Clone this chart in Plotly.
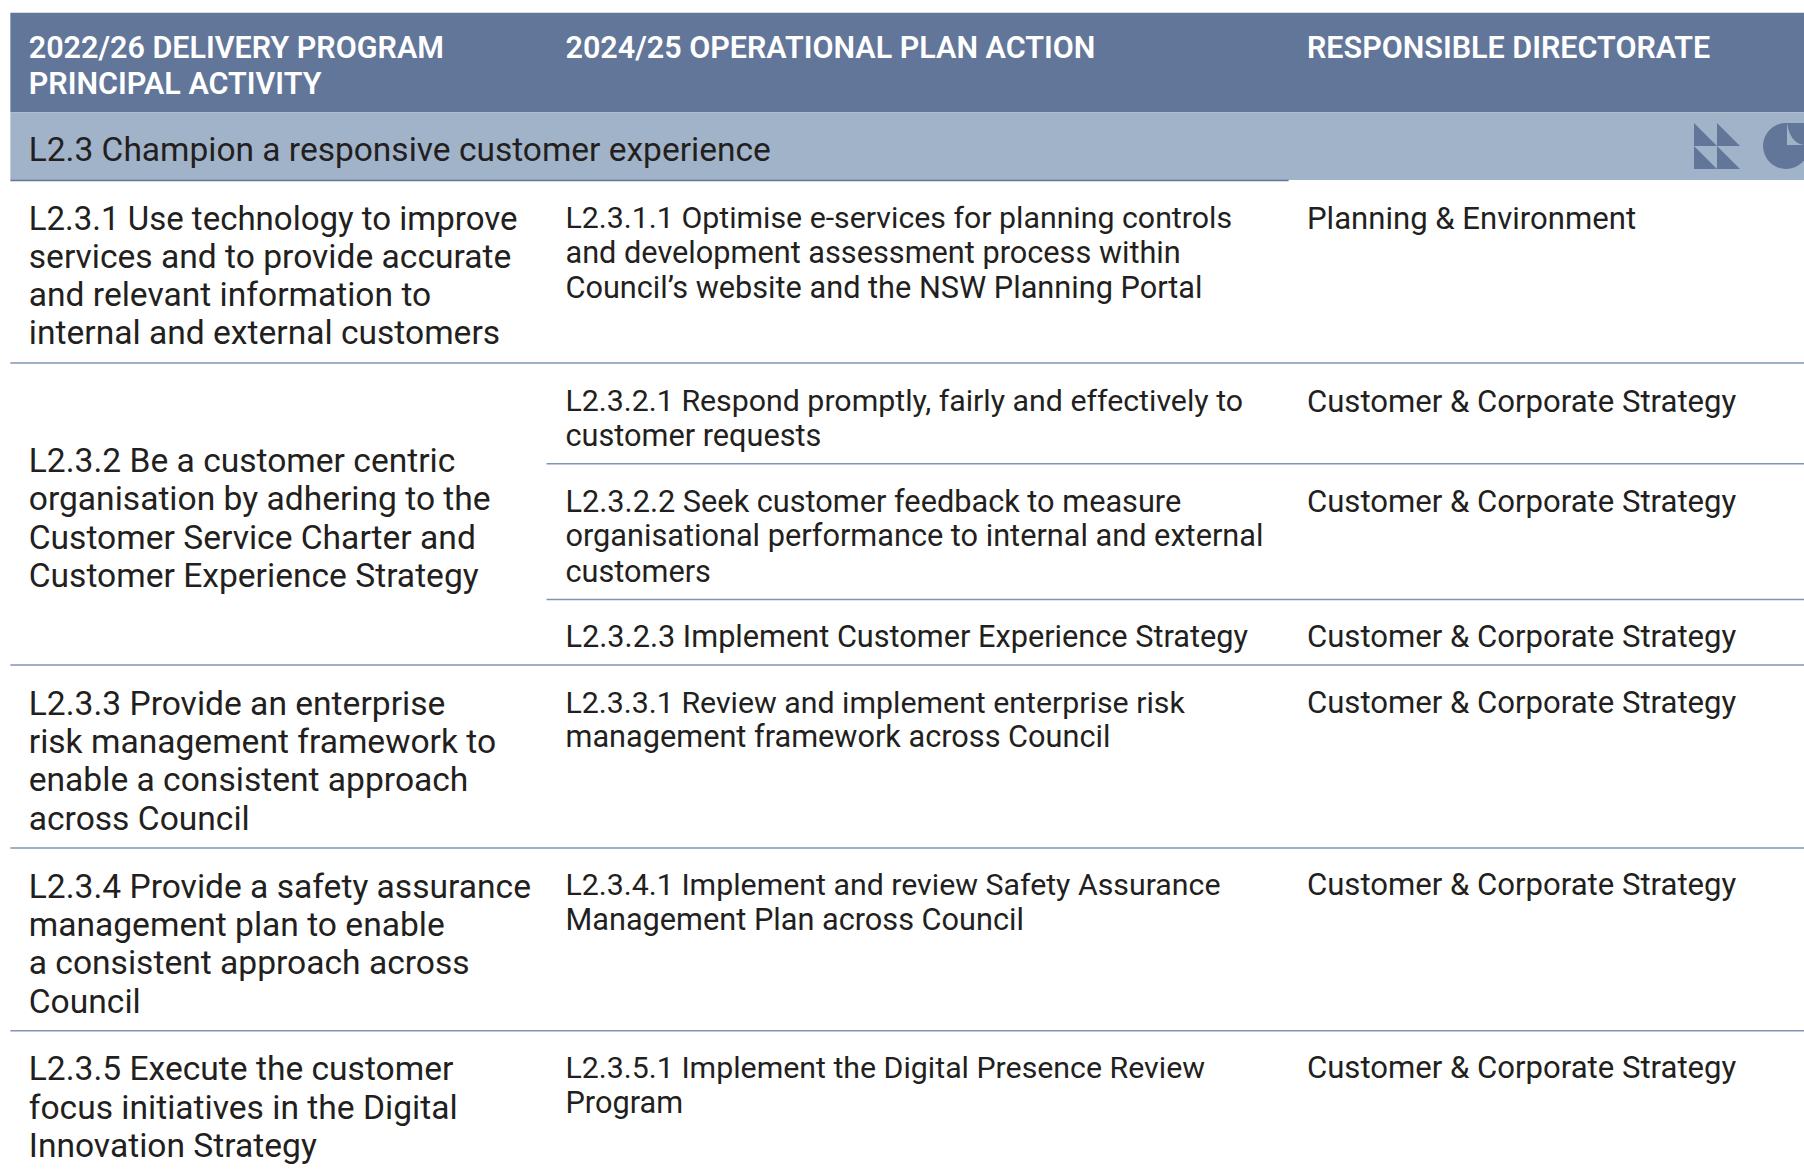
import plotly.graph_objects as go

SCALE = 1804 / 1568
TEXT_DY = 3

header_lines = ["2022/26 DELIVERY PROGRAM", "PRINCIPAL ACTIVITY", "2024/25 OPERATIONAL PLAN ACTION", "RESPONSIBLE DIRECTORATE"]
header_x = [25, 25, 491.5, 1136]
header_y = [41, 72, 41, 41]

section_title = ["L2.3 Champion a responsive customer experience"]

activity_lines = [
    "L2.3.1 Use technology to improve", "services and to provide accurate", "and relevant information to", "internal and external customers",
    "L2.3.2 Be a customer centric", "organisation by adhering to the", "Customer Service Charter and", "Customer Experience Strategy",
    "L2.3.3 Provide an enterprise", "risk management framework to", "enable a consistent approach", "across Council",
    "L2.3.4 Provide a safety assurance", "management plan to enable", "a consistent approach across", "Council",
    "L2.3.5 Execute the customer", "focus initiatives in the Digital", "Innovation Strategy",
]
activity_y = [190, 223, 256, 289, 400, 433, 467, 500, 611, 644, 677, 711, 770, 803, 836, 870, 928, 962, 995]

action_lines = [
    "L2.3.1.1 Optimise e-services for planning controls", "and development assessment process within", "Council’s website and the NSW Planning Portal",
    "L2.3.2.1 Respond promptly, fairly and effectively to", "customer requests",
    "L2.3.2.2 Seek customer feedback to measure", "organisational performance to internal and external", "customers",
    "L2.3.2.3 Implement Customer Experience Strategy",
    "L2.3.3.1 Review and implement enterprise risk", "management framework across Council",
    "L2.3.4.1 Implement and review Safety Assurance", "Management Plan across Council",
    "L2.3.5.1 Implement the Digital Presence Review", "Program",
]
action_y = [189, 219, 249, 348, 378, 435, 465, 496, 553, 610, 640, 768, 799, 927, 958]

directorates = ["Planning & Environment"] + ["Customer & Corporate Strategy"] * 6
directorate_y = [189, 348, 435, 553, 610, 768, 927]

full_rules = [315.5, 578, 737, 896]
partial_rules = [403, 521]

FONT = "Roboto"
DARK = "#62769a"
LIGHT = "#a1b3c9"
RULE = "#7f95b3"
INK = "#231f20"


def s(v):
    return [a * SCALE for a in v]


fig = go.Figure()


def add_text(xs, ys, text, size, color, weight=400):
    fig.add_trace(go.Scatter(
        x=s(xs), y=s([y + TEXT_DY for y in ys]), text=text, mode="text", textposition="middle right",
        textfont=dict(family=FONT, size=size, color=color, weight=weight),
        hoverinfo="skip", showlegend=False, cliponaxis=False))


activity_sizes = [33.0 if line.startswith("L2.3.1 ") else 33.6 for line in activity_lines]
action_sizes = [30.3 if line.split(" ")[0].endswith(".1") else 30.7 for line in action_lines]

add_text(header_x, header_y, header_lines, 30.5, "#ffffff", 600)
add_text([25], [130], section_title, 33.5, INK)
add_text([25] * len(activity_lines), activity_y, activity_lines, activity_sizes, INK)
add_text([491.5] * len(action_lines), action_y, action_lines, action_sizes, INK)
add_text([1136] * len(directorates), directorate_y, directorates, 31.1, INK)

shapes = [
    dict(type="rect", x0=9 * SCALE, x1=1568 * SCALE, y0=11 * SCALE, y1=97.5 * SCALE, fillcolor=DARK, line_width=0, layer="below"),
    dict(type="rect", x0=9 * SCALE, x1=1568 * SCALE, y0=97.5 * SCALE, y1=156.5 * SCALE, fillcolor=LIGHT, line_width=0, layer="below"),
    dict(type="line", x0=9 * SCALE, x1=1120 * SCALE, y0=156.8 * SCALE, y1=156.8 * SCALE, line=dict(color=DARK, width=1.5)),
]
for y in full_rules:
    shapes.append(dict(type="line", x0=9 * SCALE, x1=1568 * SCALE, y0=y * SCALE, y1=y * SCALE, line=dict(color=RULE, width=1.5)))
for y in partial_rules:
    shapes.append(dict(type="line", x0=475 * SCALE, x1=1568 * SCALE, y0=y * SCALE, y1=y * SCALE, line=dict(color=RULE, width=1.5)))

# Decorative icons in the section band (full-size pixel coordinates)
for (x0, y0, x1, y1) in [(1694, 123, 1717, 146), (1717, 123, 1740, 146), (1694, 146, 1717, 169), (1717, 146, 1740, 169)]:
    shapes.append(dict(type="path", path=f"M{x0},{y0} L{x0},{y1} L{x1},{y1} Z", fillcolor=DARK, line_width=0))
cx, cy, r = 1786, 146, 23
shapes.append(dict(type="circle", x0=cx - r, x1=cx + r, y0=cy - r, y1=cy + r, fillcolor=DARK, line_width=0))
shapes.append(dict(type="rect", x0=cx, x1=1804, y0=cy - r, y1=cy, fillcolor=DARK, line_width=0))
shapes.append(dict(type="path", path=f"M{cx + 1},{cy - r} L{cx + 1},{cy - 1} L1804,{cy - 1} Q{cx + 4},{cy - 3} {cx + 1},{cy - r} Z", fillcolor=LIGHT, line_width=0))

fig.update_layout(
    width=1804, height=1169, autosize=False,
    margin=dict(l=0, r=0, t=0, b=0), paper_bgcolor="#ffffff", plot_bgcolor="#ffffff",
    xaxis=dict(range=[0, 1804], visible=False, fixedrange=True),
    yaxis=dict(range=[1169, 0], visible=False, fixedrange=True),
    shapes=shapes, showlegend=False,
)
fig.write_html("out.html", config={"displayModeBar": False},
               post_script="document.body.style.margin='0';document.documentElement.style.overflow='hidden';")
